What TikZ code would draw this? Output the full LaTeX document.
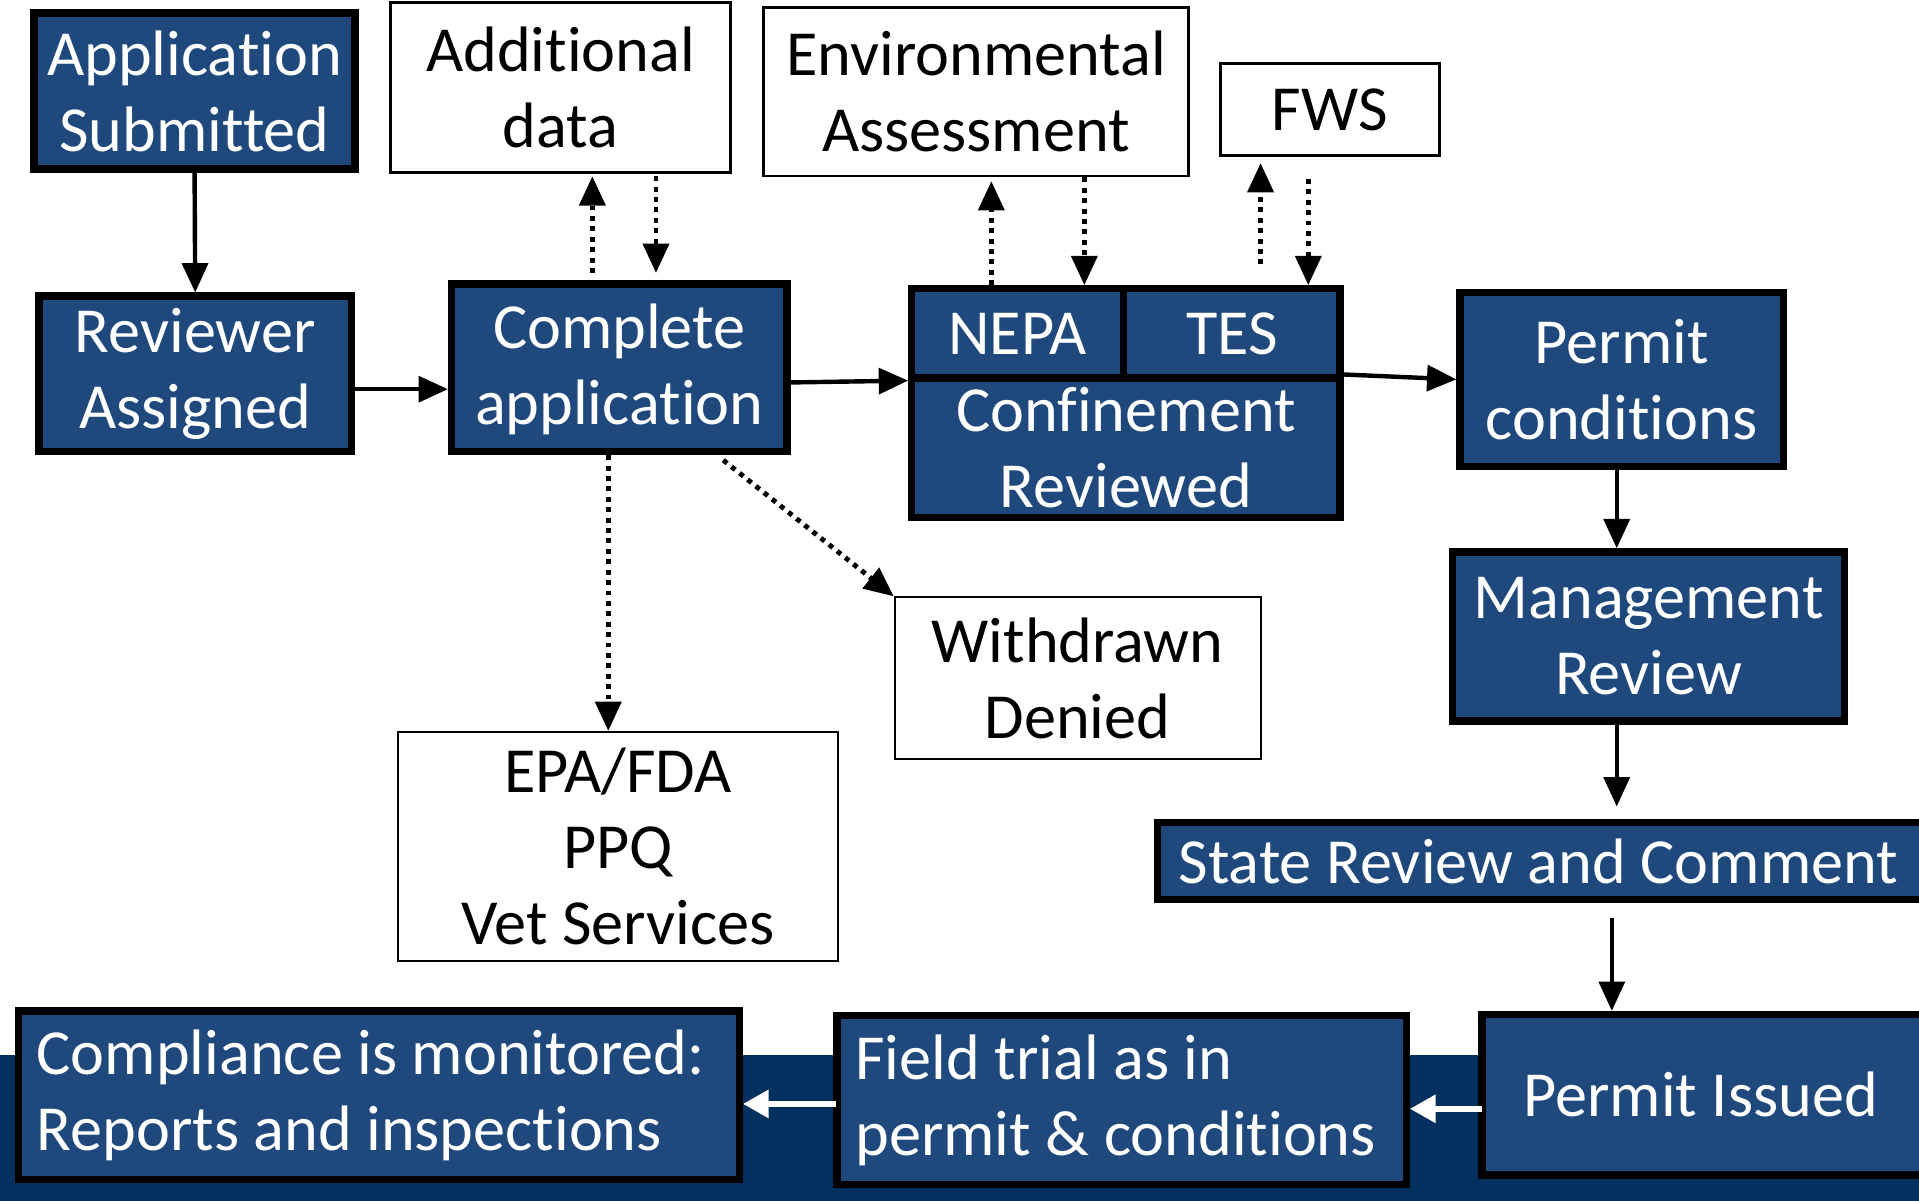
\documentclass[tikz,border=0pt]{standalone}
\usepackage{fontspec}
\setmainfont{Carlito}[Ligatures={NoCommon}]
\usetikzlibrary{arrows.meta}
\definecolor{boxblue}{HTML}{1F497D}
\definecolor{bandblue}{HTML}{03305E}
\tikzset{
  big/.style={font=\fontsize{52.5}{62}\selectfont},
  darkbox/.style={big, draw=black, line width=6pt, fill=boxblue, text=white, align=center, inner sep=0pt},
  whitebox/.style={big, draw=black, line width=2pt, fill=white, text=black, align=center, inner sep=0pt},
  tip/.style={-{Triangle[length=24pt,width=21pt]}},
  flow/.style={tip, line width=3.6pt},
  dotflow/.style={tip, line width=4pt, dash pattern=on 4pt off 4.5pt},
  whiteflow/.style={-{Triangle[length=21pt,width=22pt]}, draw=white, line width=5pt}
}
% box from corner (x1,y1) to corner (x2,y2), y measured downwards
\newcommand\boxnode[7]{%
  \node[#6, minimum width={#4-#2}, minimum height={#5-#3}] (#1) at ({(#2+#4)/2},{(#3+#5)/2}) {#7};}
\begin{document}
\begin{tikzpicture}[x=1pt,y=-1pt]
\useasboundingbox (0,0) rectangle (1568,981);
% navy band behind the bottom row
\fill[bandblue] (0,862) rectangle (1568,981);

\boxnode{appsub}{28}{11}{290}{138}{darkbox, line width=6.5pt}{Application\\Submitted}
\boxnode{addl}{319}{2}{597}{141}{whitebox}{Additional\\data}
\boxnode{ea}{624}{6}{971}{144}{whitebox}{Environmental\\Assessment}
\boxnode{fws}{997}{52}{1176}{127}{whitebox, line width=2.5pt}{FWS}
\boxnode{revass}{32}{242}{287}{369}{darkbox}{Reviewer\\Assigned}
\boxnode{comp}{369}{232}{643}{369}{darkbox, text depth=6pt}{Complete\\application}
\boxnode{conf}{745}{309}{1095}{423}{darkbox}{Confinement\\Reviewed}
\boxnode{nepa}{745}{236}{918}{309}{darkbox}{NEPA}
\boxnode{tes}{918}{236}{1095}{309}{darkbox}{TES}
\boxnode{pcond}{1193}{239}{1457}{381}{darkbox}{Permit\\conditions}
\boxnode{mgmt}{1187}{451}{1507}{589}{darkbox}{Management\\Review}
\boxnode{state}{946}{672}{1580}{735}{darkbox}{State Review and Comment\hspace*{12pt}}
\boxnode{wd}{731}{488}{1030}{620}{whitebox, line width=1.5pt}{Withdrawn\\Denied}
\boxnode{epa}{325}{598}{685}{785}{whitebox, line width=1.5pt}{EPA/FDA\\PPQ\\Vet Services}
\boxnode{compl}{15}{826}{604}{964}{darkbox, text width=559pt, align=flush left}{Compliance is monitored:\\Reports and inspections}
\boxnode{field}{684}{830}{1149}{968}{darkbox, text width=435pt, align=flush left}{Field trial as in\\permit \& conditions}
\boxnode{issued}{1211}{829}{1580}{960}{darkbox}{\hspace*{-12pt}Permit Issued}

% main flow
\draw[flow] (appsub.south) -- (revass.north);
\draw[flow] (revass.east |- 0,318) -- (comp.west |- 0,318);
\draw[flow] ([yshift=-12pt]comp.east) -- ([yshift=-5pt]conf.north west);
\draw[flow] (conf.north east) -- (pcond.west);
\draw[flow] (pcond.south -| 1321,0) -- (mgmt.north -| 1321,0);
\draw[flow, shorten >=-2pt] (mgmt.south -| 1321,0) -- (1321,657);
\coordinate (stateout) at (1317,750);
\draw[flow] (stateout) -- (issued.north -| 1317,0);

% consultations (dotted, both ways)
\draw[dotflow, shorten <=6pt, shorten >=2pt] (comp.north -| 484,0) -- (addl.south -| 484,0);
\draw[dotflow, shorten <=2pt, shorten >=6pt] (addl.south -| 536,0) -- (comp.north -| 536,0);
\draw[dotflow, shorten >=3pt] (nepa.north -| 810,0) -- (ea.south -| 810,0);
\draw[dotflow] (ea.south -| 886,0) -- (nepa.north -| 886,0);
\draw[dotflow, shorten <=17pt, shorten >=5pt] (tes.north -| 1030,0) -- (fws.south -| 1030,0);
\draw[dotflow, shorten <=18pt] (fws.south -| 1069,0) -- (tes.north -| 1069,0);

% side outcomes
\draw[dotflow] (comp.south -| 497,0) -- (epa.north -| 497,0);
\coordinate (compdiag) at (591,376);
\draw[dotflow] (compdiag) -- (wd.north west);

% bottom row, right to left
\draw[whiteflow, shorten <=-3pt] (issued.west |- 0,906) -- (field.east |- 0,906);
\draw[whiteflow, shorten <=-2pt] (field.west |- 0,902) -- (compl.east |- 0,902);
\end{tikzpicture}
\end{document}
